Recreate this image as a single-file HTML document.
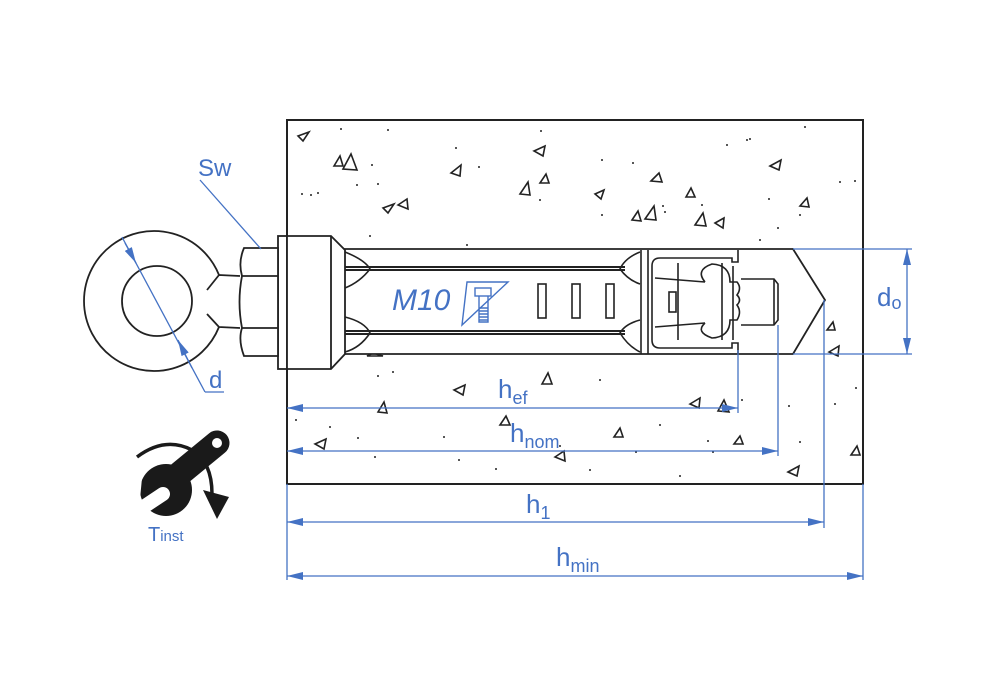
<!DOCTYPE html>
<html><head><meta charset="utf-8"><style>
html,body{margin:0;padding:0;background:#fff;width:1000px;height:700px;overflow:hidden}
svg{display:block}
text{font-family:"Liberation Sans",Arial,sans-serif;fill:#4472c4}
</style></head><body>
<svg width="1000" height="700" viewBox="0 0 1000 700" xmlns="http://www.w3.org/2000/svg">
<defs>
<marker id="a" viewBox="0 0 16 8" refX="16" refY="4" markerWidth="16" markerHeight="8" markerUnits="userSpaceOnUse" orient="auto-start-reverse"><path d="M0,0 L16,4 L0,8 Z" fill="#4472c4"/></marker>
</defs>
<!-- concrete -->
<rect x="287" y="120" width="576" height="364" fill="#fff" stroke="#222" stroke-width="2"/>
<g fill="none" stroke="#222" stroke-width="1.6">
<path d="M298,136 l11,-4 l-6,9z"/><path d="M334,166 l6,-10 l3,10z"/><path d="M343,169 l8,-15 l6,16z"/>
<path d="M451,173 l10,-8 l-1,11z"/><path d="M534,151 l11,-5 l-2,10z"/><path d="M383,208 l11,-4 l-6,9z"/>
<path d="M398,205 l9,-6 l1,10z"/><path d="M520,194 l8,-12 l2,13z"/><path d="M540,183 l6,-9 l3,9z"/>
<path d="M595,194 l9,-4 l-3,9z"/><path d="M632,220 l6,-9 l3,10z"/><path d="M645,219 l9,-13 l2,14z"/>
<path d="M651,181 l8,-8 l3,9z"/><path d="M695,225 l8,-12 l3,13z"/><path d="M715,223 l9,-5 l-1,10z"/>
<path d="M770,166 l11,-6 l-2,10z"/><path d="M800,206 l7,-8 l2,9z"/><path d="M686,197 l5,-9 l4,9z"/>
<path d="M454,390 l11,-5 l-2,10z"/><path d="M542,384 l6,-11 l4,11z"/><path d="M378,412 l6,-10 l3,11z"/>
<path d="M315,444 l11,-5 l-2,10z"/><path d="M500,425 l6,-9 l4,9z"/><path d="M555,457 l9,-6 l1,10z"/>
<path d="M614,437 l6,-9 l3,9z"/><path d="M690,404 l10,-6 l-1,10z"/><path d="M718,411 l6,-11 l5,12z"/>
<path d="M734,444 l6,-8 l3,8z"/><path d="M788,472 l11,-6 l-2,10z"/><path d="M851,455 l6,-9 l3,9z"/>
<path d="M827,330 l6,-8 l2,8z"/><path d="M829,352 l10,-6 l-1,10z"/><path d="M367,356 l6,-3 l10,3z"/>
</g>
<g fill="#222">
<circle cx="341" cy="129" r="1"/><circle cx="388" cy="130" r="1"/><circle cx="372" cy="165" r="1"/><circle cx="357" cy="185" r="1"/>
<circle cx="302" cy="194" r="1"/><circle cx="311" cy="195" r="1"/><circle cx="318" cy="193" r="1"/><circle cx="378" cy="184" r="1"/>
<circle cx="456" cy="148" r="1"/><circle cx="479" cy="167" r="1"/><circle cx="540" cy="200" r="1"/><circle cx="541" cy="131" r="1"/>
<circle cx="602" cy="160" r="1"/><circle cx="602" cy="215" r="1"/><circle cx="633" cy="163" r="1"/><circle cx="663" cy="206" r="1"/>
<circle cx="665" cy="212" r="1"/><circle cx="702" cy="205" r="1"/><circle cx="727" cy="145" r="1"/><circle cx="747" cy="140" r="1"/>
<circle cx="805" cy="127" r="1"/><circle cx="750" cy="139" r="1"/><circle cx="769" cy="199" r="1"/><circle cx="800" cy="215" r="1"/>
<circle cx="840" cy="182" r="1"/><circle cx="855" cy="181" r="1"/><circle cx="778" cy="228" r="1"/><circle cx="760" cy="240" r="1"/>
<circle cx="467" cy="245" r="1"/><circle cx="370" cy="236" r="1"/><circle cx="378" cy="376" r="1"/><circle cx="393" cy="372" r="1"/>
<circle cx="296" cy="420" r="1"/><circle cx="330" cy="427" r="1"/><circle cx="358" cy="438" r="1"/><circle cx="375" cy="457" r="1"/>
<circle cx="444" cy="437" r="1"/><circle cx="459" cy="460" r="1"/><circle cx="496" cy="469" r="1"/><circle cx="560" cy="446" r="1"/>
<circle cx="590" cy="470" r="1"/><circle cx="636" cy="452" r="1"/><circle cx="660" cy="425" r="1"/><circle cx="680" cy="476" r="1"/>
<circle cx="713" cy="452" r="1"/><circle cx="708" cy="441" r="1"/><circle cx="800" cy="442" r="1"/><circle cx="789" cy="406" r="1"/>
<circle cx="835" cy="404" r="1"/><circle cx="856" cy="388" r="1"/><circle cx="600" cy="380" r="1"/><circle cx="742" cy="400" r="1"/>
</g>
<!-- hole -->
<path d="M333,249 L793,249 L825,300 L793,354 L333,354 Z" fill="#fff" stroke="#222" stroke-width="1.8"/>
<!-- sleeve -->
<g stroke="#222" stroke-width="1.6" fill="none">
<line x1="345" y1="267" x2="625" y2="267" stroke-width="2"/><line x1="345" y1="270" x2="625" y2="270" stroke-width="2"/>
<line x1="345" y1="331" x2="625" y2="331" stroke-width="2"/><line x1="345" y1="334" x2="625" y2="334" stroke-width="2"/>
<path d="M345,252 Q365,260 370,269 Q360,282 345,288"/>
<path d="M345,317 Q365,322 370,333 Q360,348 345,352"/>
<path d="M640,252 Q625,258 620,269 Q628,280 640,284"/>
<path d="M640,320 Q625,324 620,333 Q628,346 640,352"/>
<rect x="538" y="284" width="8" height="34"/><rect x="572" y="284" width="8" height="34"/><rect x="606" y="284" width="8" height="34"/>
<line x1="641" y1="250" x2="641" y2="354"/><line x1="648" y1="250" x2="648" y2="354"/>
<path d="M738,250 L738,262 L732,262 L732,258 L660,258 Q652,258 652,266 L652,340 Q652,348 660,348 L732,348 L732,343 L738,343 L738,354"/>
<path d="M655,278 L705,282 M655,327 L705,323"/>
<path d="M678,263 L678,340 M722,263 L722,340 M733,266 L733,340"/>
<path d="M705,282 Q695,270 712,264 Q730,265 730,282 L737,282 Q742,288 737,295 Q742,300 737,305 Q742,312 737,320 L730,320 Q730,337 712,338 Q695,332 705,323"/>
<rect x="669" y="292" width="7" height="20"/>
<path d="M741,279 L774,279 L778,284 L778,320 L774,325 L741,325"/>
<line x1="774" y1="279" x2="774" y2="325"/>
</g>
<!-- M10 label -->
<text x="392" y="310" font-size="30" font-style="italic">M10</text>
<g stroke="#4472c4" stroke-width="1.4" fill="none">
<path d="M467,282 L508,282 L462,325 Z"/>
<rect x="475" y="288" width="16" height="8"/>
<path d="M479,296 L479,322 L488,322 L488,296"/>
<path d="M479,308 H488 M479,311 H488 M479,314 H488 M479,317 H488 M479,320 H488"/>
</g>
<!-- washer, head, hex, eye -->
<g stroke="#222" stroke-width="1.8" fill="#fff">
<rect x="278" y="236" width="9" height="133"/>
<path d="M287,236 L331,236 L345,250 L345,354 L331,369 L287,369 Z"/>
<line x1="331" y1="236" x2="331" y2="369"/>
<path d="M244,248 L278,248 L278,356 L244,356 Q238,340 242,328 Q237,302 242,276 Q238,262 244,248 Z"/>
<line x1="242" y1="276" x2="278" y2="276"/><line x1="242" y1="328" x2="278" y2="328"/>
<path d="M219,275 A70,70 0 1 0 219,327" fill="none"/>
<circle cx="157" cy="301" r="35"/>
<path d="M219,275 L240,276 M219,327 L240,328 M219,275 L207,290 M219,327 L207,314" fill="none"/>
</g>
<!-- blue dims -->
<g stroke="#4472c4" stroke-width="1.3" fill="none">
<line x1="200" y1="180" x2="261" y2="249"/>
<line x1="122" y1="237" x2="205" y2="392"/><line x1="205" y1="392" x2="224" y2="392"/>
<line x1="125" y1="243" x2="136" y2="263" marker-end="url(#a)"/>
<line x1="192" y1="368" x2="178" y2="340" marker-end="url(#a)"/>
<line x1="793" y1="249" x2="912" y2="249"/><line x1="793" y1="354" x2="912" y2="354"/>
<line x1="907" y1="270" x2="907" y2="249" marker-end="url(#a)"/><line x1="907" y1="330" x2="907" y2="354" marker-end="url(#a)"/>
<line x1="907" y1="270" x2="907" y2="330"/>
<line x1="738" y1="350" x2="738" y2="413"/><line x1="778" y1="325" x2="778" y2="456"/>
<line x1="824" y1="300" x2="824" y2="528"/><line x1="863" y1="484" x2="863" y2="580"/><line x1="287" y1="484" x2="287" y2="580"/>
<line x1="287" y1="408" x2="738" y2="408" marker-start="url(#a)" marker-end="url(#a)"/>
<line x1="287" y1="451" x2="778" y2="451" marker-start="url(#a)" marker-end="url(#a)"/>
<line x1="287" y1="522" x2="824" y2="522" marker-start="url(#a)" marker-end="url(#a)"/>
<line x1="287" y1="576" x2="863" y2="576" marker-start="url(#a)" marker-end="url(#a)"/>
</g>
<text x="198" y="176" font-size="24">Sw</text>
<text x="209" y="388" font-size="24">d</text>
<text x="877" y="306" font-size="26">d<tspan font-size="18" dy="3">o</tspan></text>
<text x="498" y="398" font-size="26">h<tspan font-size="18" dy="6">ef</tspan></text>
<text x="510" y="442" font-size="26">h<tspan font-size="18" dy="6">nom</tspan></text>
<text x="526" y="513" font-size="26">h<tspan font-size="18" dy="6">1</tspan></text>
<text x="556" y="566" font-size="26">h<tspan font-size="18" dy="6">min</tspan></text>
<text x="148" y="541" font-size="20">T<tspan font-size="15">inst</tspan></text>
<!-- wrench icon -->
<path d="M137,457 Q165,436 192,450 Q212,462 212,494" fill="none" stroke="#1a1a1a" stroke-width="3.5"/>
<path d="M203,490 L229,497 L217,519 Z" fill="#1a1a1a"/>
<line x1="217" y1="443" x2="172" y2="480" stroke="#1a1a1a" stroke-width="25" stroke-linecap="round"/>
<circle cx="166" cy="490" r="26" fill="#1a1a1a"/>
<line x1="163" y1="494" x2="136" y2="512" stroke="#fff" stroke-width="14" stroke-linecap="round"/>
<path d="M130,508 L142,478 L138,520 Z" fill="#fff"/>
<circle cx="217" cy="443" r="5" fill="#fff"/>
</svg>
</body></html>
